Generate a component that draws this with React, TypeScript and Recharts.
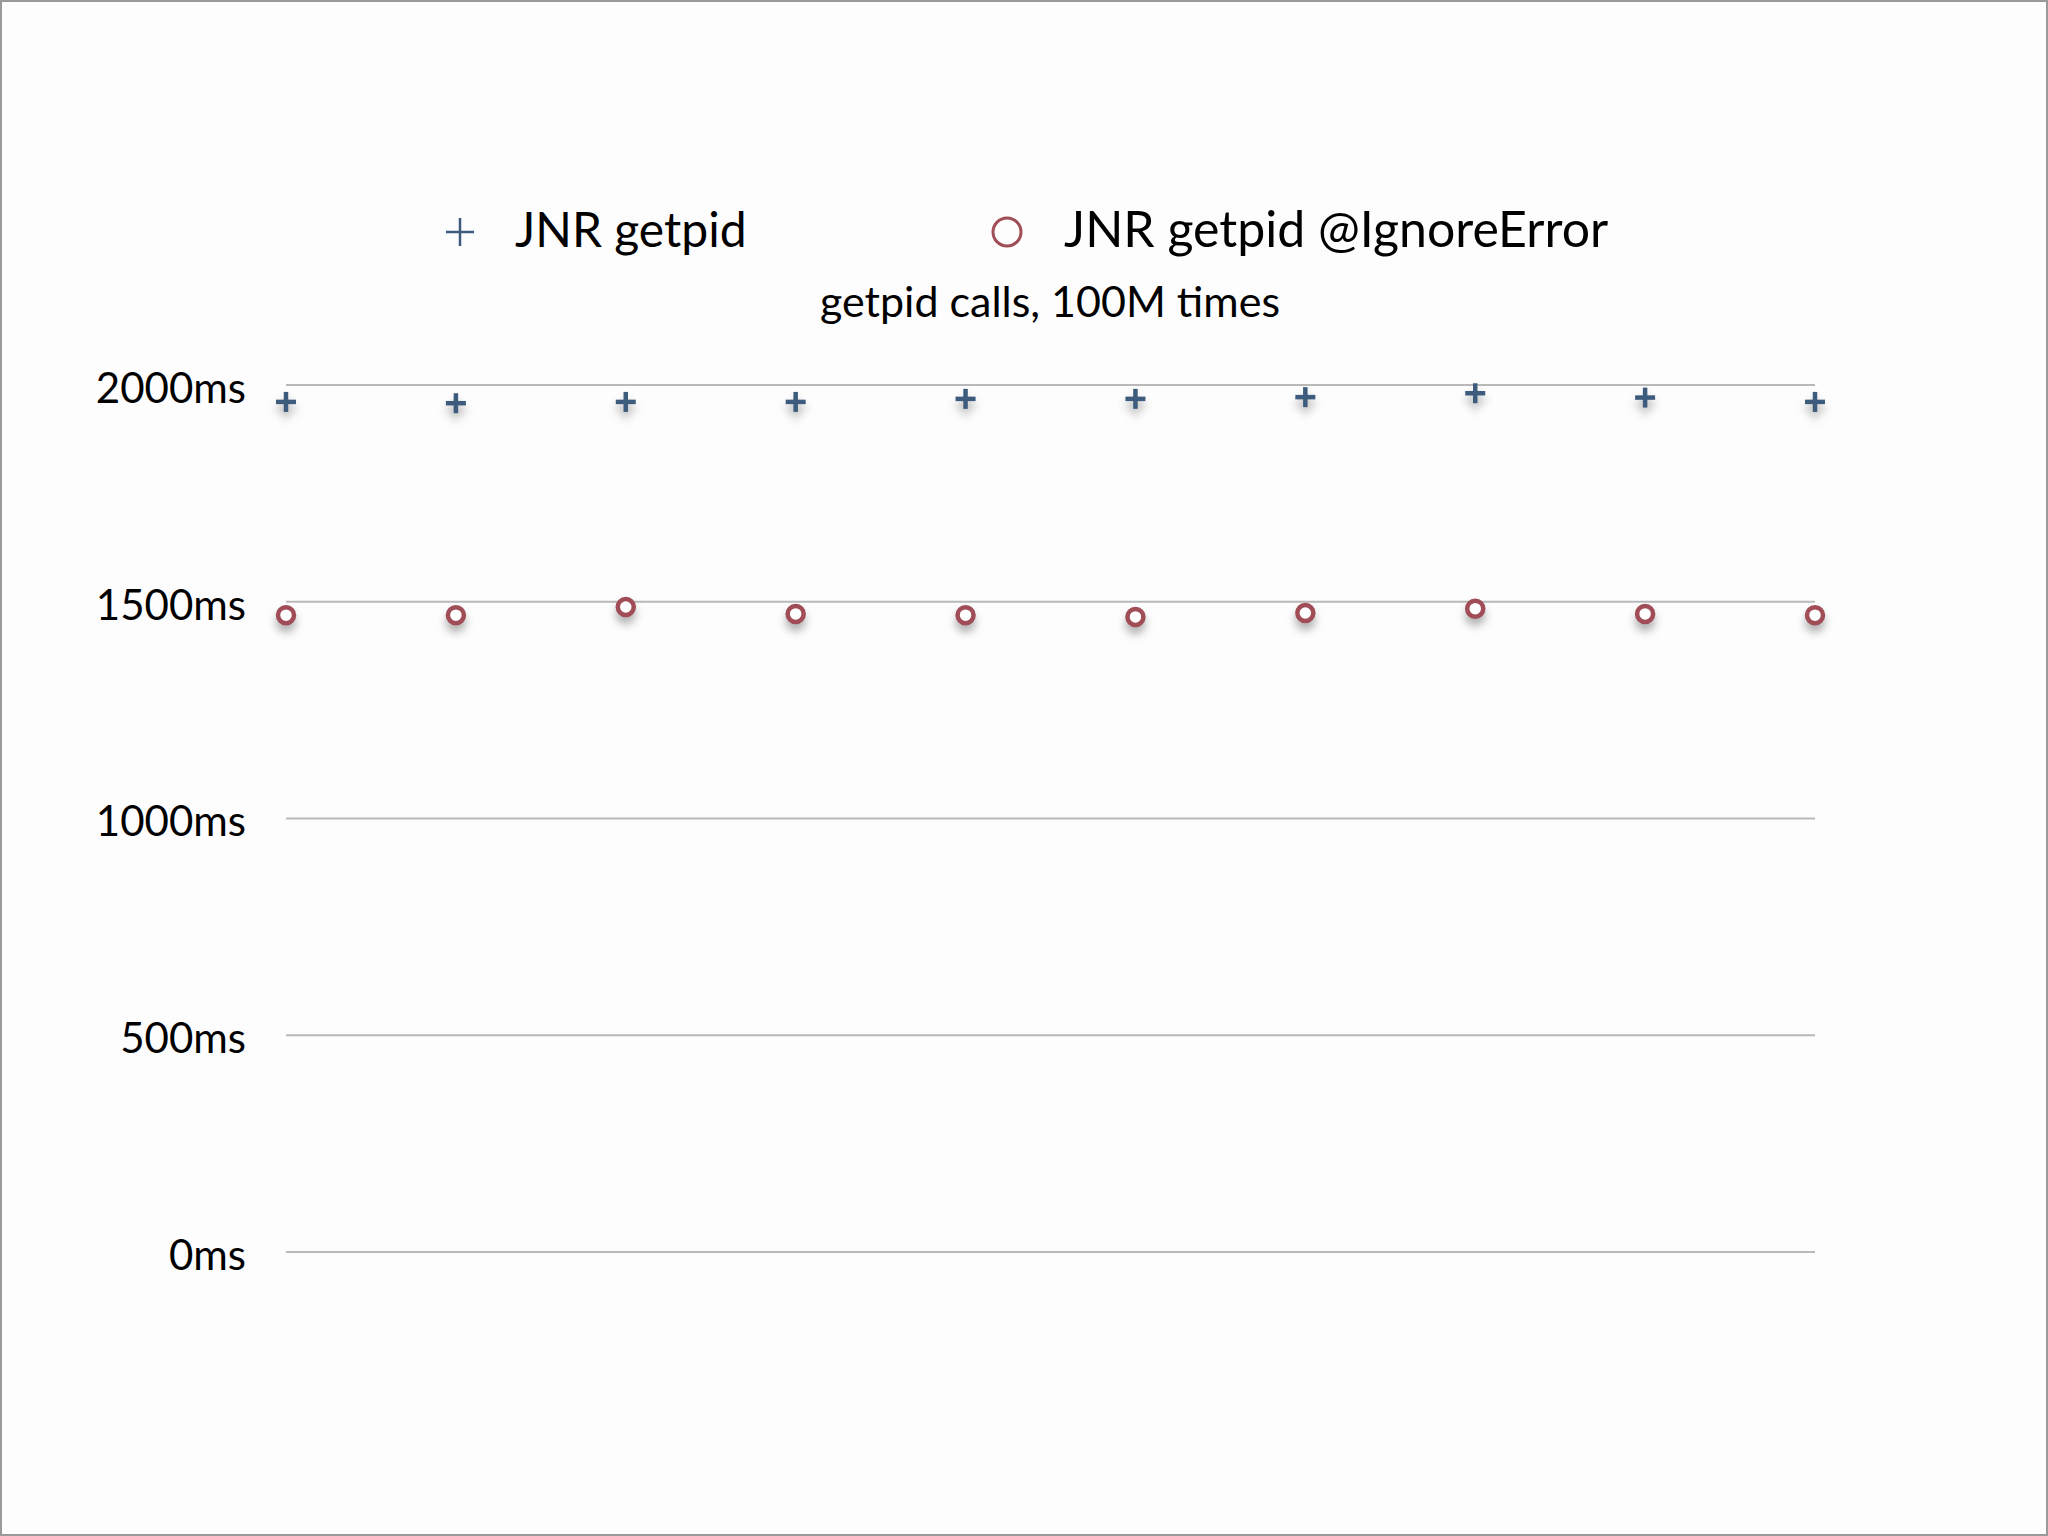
import React from "react";
import {
  ScatterChart,
  Scatter,
  CartesianGrid,
  XAxis,
  YAxis,
  Legend
} from "recharts";

// run number along x, one point per run
const runs = [1, 2, 3, 4, 5, 6, 7, 8, 9, 10];

// milliseconds per 100M getpid calls
const jnrGetpid = [1961, 1958, 1961, 1961, 1968, 1968, 1972, 1981, 1971, 1961];
const jnrGetpidIgnoreError = [1469, 1469, 1488, 1472, 1469, 1465, 1474, 1484, 1472, 1469];

const yTicks = [0, 500, 1000, 1500, 2000];

const seriesNames = ["JNR getpid", "JNR getpid @IgnoreError"];
const chartTitle = "getpid calls, 100M times";

const plusData = runs.map((x, i) => ({ x, y: jnrGetpid[i] }));
const circleData = runs.map((x, i) => ({ x, y: jnrGetpidIgnoreError[i] }));

const FONT = "Lato, 'Open Sans', sans-serif";
const BLUE = "#3d5b7c";
const RED = "#a04d57";
const SHADOW = "drop-shadow(0px 7px 4px rgba(40,40,40,0.35))";

const PlusShape = (props: any) => {
  const { cx, cy } = props;
  if (cx == null || cy == null) return null;
  return (
    <g style={{ filter: SHADOW }}>
      <line x1={cx - 10} x2={cx + 10} y1={cy} y2={cy} stroke={BLUE} strokeWidth={4.5} />
      <line x1={cx} x2={cx} y1={cy - 10} y2={cy + 10} stroke={BLUE} strokeWidth={4.5} />
    </g>
  );
};

const CircleShape = (props: any) => {
  const { cx, cy } = props;
  if (cx == null || cy == null) return null;
  return (
    <circle
      cx={cx}
      cy={cy}
      r={8}
      fill="#ffffff"
      stroke={RED}
      strokeWidth={4.5}
      style={{ filter: SHADOW }}
    />
  );
};

const LegendBlock = () => (
  <svg width={2048} height={340} style={{ display: "block" }}>
    <line x1={446} x2={474} y1={232} y2={232} stroke={BLUE} strokeWidth={2.5} />
    <line x1={460} x2={460} y1={218} y2={246} stroke={BLUE} strokeWidth={2.5} />
    <text x={515} y={247} fontFamily={FONT} fontSize={48} fill="#000">
      {seriesNames[0]}
    </text>
    <circle cx={1007} cy={232} r={14} fill="none" stroke={RED} strokeWidth={3} />
    <text x={1064} y={247} fontFamily={FONT} fontSize={50} fill="#000">
      {seriesNames[1]}
    </text>
    <text
      x={1050}
      y={317}
      textAnchor="middle"
      fontFamily={FONT}
      fontSize={43}
      fill="#000"
    >
      {chartTitle}
    </text>
  </svg>
);

export default function App() {
  return (
    <div
      style={{
        position: "absolute",
        left: 0,
        top: 0,
        width: 2048,
        height: 1536,
        background: "#fdfdfd",
        boxShadow: "inset 0 0 0 2px #9a9a9a"
      }}
    >
      <ScatterChart
        width={2048}
        height={1536}
        margin={{ top: 385, right: 233, bottom: 284, left: 36 }}
      >
        <CartesianGrid vertical={false} stroke="#b9b9b9" strokeWidth={2} />
        <XAxis type="number" dataKey="x" domain={[1, 10]} hide />
        <YAxis
          type="number"
          dataKey="y"
          width={250}
          domain={[0, 2000]}
          ticks={yTicks}
          tickFormatter={(v) => `${v}ms`}
          axisLine={false}
          tickLine={false}
          tickSize={0}
          tickMargin={40}
          tick={{ fontFamily: FONT, fontSize: 42, fill: "#000", dy: 3 }}
        />
        <Legend
          layout="horizontal"
          verticalAlign="middle"
          align="center"
          wrapperStyle={{ top: 0, left: 0, width: 2048, height: 340, margin: 0 }}
          content={() => <LegendBlock />}
        />
        <Scatter
          name={seriesNames[0]}
          data={plusData}
          shape={PlusShape}
          isAnimationActive={false}
        />
        <Scatter
          name={seriesNames[1]}
          data={circleData}
          shape={CircleShape}
          isAnimationActive={false}
        />
      </ScatterChart>
    </div>
  );
}
